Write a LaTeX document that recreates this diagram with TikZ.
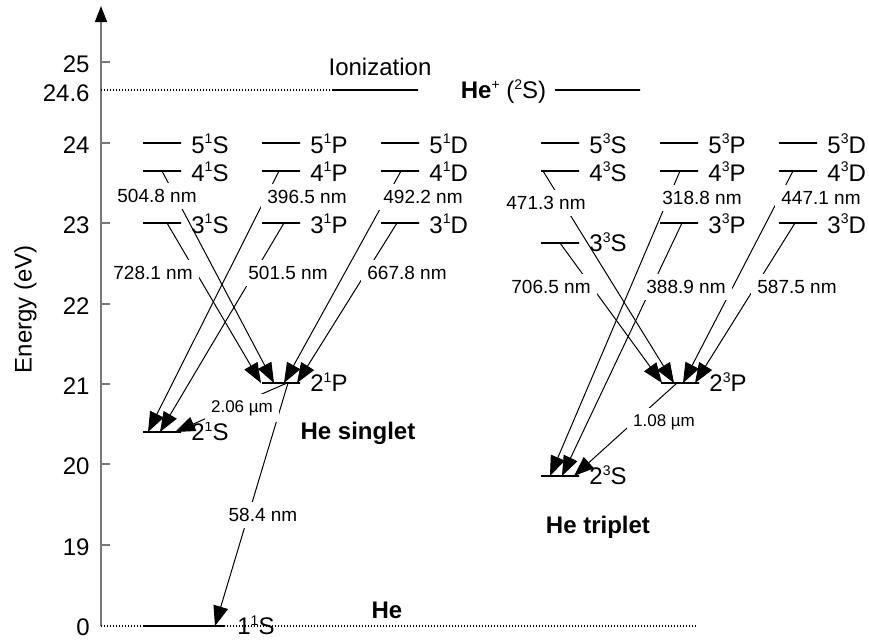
\documentclass[tikz,border=0pt]{standalone}
\usepackage{fontspec}
\setmainfont{Liberation Sans}
\usetikzlibrary{positioning, calc, arrows.meta}
\definecolor{axisgray}{RGB}{120,120,120}
\newcommand{\sps}[1]{\raisebox{0.75ex}{\fontsize{7}{8}\selectfont #1}}
\tikzset{
    lvl/.style = {draw, line width=0.8pt, minimum width=19pt, minimum height=0pt, inner sep=0pt, outer sep=0pt},
    lab/.style = {font=\fontsize{12}{14}\selectfont, inner sep=0pt, text height=8.6pt, text depth=0pt},
    nm/.style = {font=\fontsize{9.5}{11}\selectfont, fill=white, inner sep=3pt},
    trans/.style = {draw, line width=0.5pt, -{Triangle[length=10pt, width=7.5pt]}},
}

\begin{document}
\begin{tikzpicture}[
        x=0.5pt, y=-0.5pt,
        axis/.style={
            draw=axisgray,
            line width=0.8pt,
            -{Triangle[length=8pt, width=6pt, color=black]}
        },
        tick/.style={draw=axisgray, line width=0.8pt},
        ticklab/.style={lab, anchor=east},
        dotline/.style={draw, line width=0.6pt, dash pattern=on 0.6pt off 0.9pt},
        title/.style={lab, font=\fontsize{12}{14}\selectfont\bfseries},
        stlab/.style={lab, yshift=-0.75pt}
    ]
    \useasboundingbox (0,0) rectangle (869,639);

    % energy axis
    \draw[axis] (101,626) -- (101,6);
    \draw[tick] (101,62) -- (110,62);
    \draw[tick] (101,143) -- (110,143);
    \draw[tick] (101,223) -- (110,223);
    \draw[tick] (101,304) -- (110,304);
    \draw[tick] (101,384) -- (110,384);
    \draw[tick] (101,464) -- (110,464);
    \draw[tick] (101,545) -- (110,545);
    \node[ticklab] (e25) at (90,64) {25};
    \node[ticklab] (e246) at (90,93) {24.6};
    \node[ticklab] (e24) at (90,145) {24};
    \node[ticklab] (e23) at (90,225) {23};
    \node[ticklab] (e22) at (90,306) {22};
    \node[ticklab] (e21) at (90,386) {21};
    \node[ticklab] (e20) at (90,466) {20};
    \node[ticklab] (e19) at (90,547) {19};
    \node[ticklab] (e0) at (90,627) {0};
    \node[lab, rotate=90] (energy) at (23,309) {Energy (eV)};

    % ionization and ground state
    \node[lvl, minimum width=42.5pt] (ion) at (375.5,90) {};
    \node[lab] (iontxt) at (380,67) {Ionization};
    \node[lab] (heplus) at (503.5,90) {\textbf{He}\sps{+} (\sps{2}S)};
    \node[lvl, minimum width=42.5pt] (heplusline) at (597.5,90) {};
    \draw[dotline] (101,90) -- (ion.west);
    \draw[dotline] (101,626) -- (697,626);
    \node[lvl, minimum width=41pt] (g1S) at (184,626) {};
    \node[lab, right=6pt of g1S] (g1Slab) {1\sps{1}S};
    \node[title] (he) at (387,610) {He};

    % singlet levels
    \node[lvl] (s5S) at (162,143) {};
    \node[lvl] (s4S) at (162,171) {};
    \node[lvl] (s3S) at (162,223) {};
    \node[lvl] (s2S) at (162,432) {};
    \node[lvl] (s5P) at (281,143) {};
    \node[lvl] (s4P) at (281,171) {};
    \node[lvl] (s3P) at (281,223) {};
    \node[lvl] (s2P) at (281,383) {};
    \node[lvl] (s5D) at (400,143) {};
    \node[lvl] (s4D) at (400,171) {};
    \node[lvl] (s3D) at (400,223) {};
    \node[stlab, right=5pt of s5S] (s5Slab) {5\sps{1}S};
    \node[stlab, right=5pt of s4S] (s4Slab) {4\sps{1}S};
    \node[stlab, right=5pt of s3S] (s3Slab) {3\sps{1}S};
    \node[lab, right=5pt of s2S] (s2Slab) {2\sps{1}S};
    \node[stlab, right=5pt of s5P] (s5Plab) {5\sps{1}P};
    \node[stlab, right=5pt of s4P] (s4Plab) {4\sps{1}P};
    \node[stlab, right=5pt of s3P] (s3Plab) {3\sps{1}P};
    \node[lab, right=5pt of s2P] (s2Plab) {2\sps{1}P};
    \node[stlab, right=5pt of s5D] (s5Dlab) {5\sps{1}D};
    \node[stlab, right=5pt of s4D] (s4Dlab) {4\sps{1}D};
    \node[stlab, right=5pt of s3D] (s3Dlab) {3\sps{1}D};
    \node[title] (singlet) at (358,431) {He singlet};

    % triplet levels
    \node[lvl] (t5S) at (560,143) {};
    \node[lvl] (t4S) at (560,171) {};
    \node[lvl] (t3S) at (560,243) {};
    \node[lvl] (t2S) at (560,476) {};
    \node[lvl] (t5P) at (679,143) {};
    \node[lvl] (t4P) at (679,171) {};
    \node[lvl] (t3P) at (679,223) {};
    \node[lvl] (t2P) at (680,383) {};
    \node[lvl] (t5D) at (798,143) {};
    \node[lvl] (t4D) at (798,171) {};
    \node[lvl] (t3D) at (798,223) {};
    \node[stlab, right=5pt of t5S] (t5Slab) {5\sps{3}S};
    \node[stlab, right=5pt of t4S] (t4Slab) {4\sps{3}S};
    \node[lab, right=5pt of t3S] (t3Slab) {3\sps{3}S};
    \node[lab, right=5pt of t2S] (t2Slab) {2\sps{3}S};
    \node[stlab, right=5pt of t5P] (t5Plab) {5\sps{3}P};
    \node[stlab, right=5pt of t4P] (t4Plab) {4\sps{3}P};
    \node[stlab, right=5pt of t3P] (t3Plab) {3\sps{3}P};
    \node[lab, right=5pt of t2P] (t2Plab) {2\sps{3}P};
    \node[stlab, right=5pt of t5D] (t5Dlab) {5\sps{3}D};
    \node[stlab, right=5pt of t4D] (t4Dlab) {4\sps{3}D};
    \node[stlab, right=5pt of t3D] (t3Dlab) {3\sps{3}D};
    \node[title] (triplet) at (598,525) {He triplet};

    % singlet transitions
    \draw[trans] (s4S.center) -- ($(s2P.center)+(-7,0)$);
    \draw[trans] ($(s3S.center)+(5,0)$) -- ($(s2P.center)+(-20,0)$);
    \draw[trans] ($(s4P.center)+(-2,0)$) -- ($(s2S.center)+(-14,0)$);
    \draw[trans] ($(s3P.center)+(3,0)$) -- ($(s2S.center)+(-2,0)$);
    \draw[trans] ($(s4D.center)+(1,0)$) -- ($(s2P.center)+(3,0)$);
    \draw[trans] ($(s3D.center)+(-3,0)$) -- ($(s2P.center)+(16,0)$);
    \draw[trans] ($(s2P.center)+(6,0)$) -- ($(s2S.center)+(13,0)$);
    \draw[trans] ($(s2P.center)+(7,0)$) -- ($(g1S.center)+(31,0)$);
    \node[nm] (w5048) at (157,196) {504.8 nm};
    \node[nm] (w3965) at (307,197) {396.5 nm};
    \node[nm] (w4922) at (423,197) {492.2 nm};
    \node[nm] (w7281) at (153,273) {728.1 nm};
    \node[nm] (w5015) at (288,273) {501.5 nm};
    \node[nm] (w6678) at (407,273) {667.8 nm};
    \node[nm, font=\fontsize{8.5}{10}\selectfont] (w206) at (242,408) {2.06 µm};
    \node[nm] (w584) at (263,515) {58.4 nm};

    % triplet transitions
    \draw[trans] ($(t4S.center)+(-17,0)$) -- ($(t2P.center)+(-6,0)$);
    \draw[trans] (t3S.center) -- ($(t2P.center)+(-18,0)$);
    \draw[trans] ($(t4P.center)+(1,0)$) -- ($(t2S.center)+(-10,0)$);
    \draw[trans] ($(t3P.center)+(3,0)$) -- ($(t2S.center)+(2,0)$);
    \draw[trans] ($(t4D.center)+(-5,0)$) -- ($(t2P.center)+(3,0)$);
    \draw[trans] ($(t3D.center)+(-3,0)$) -- ($(t2P.center)+(15,0)$);
    \draw[trans] ($(t2P.center)+(-3,0)$) -- ($(t2S.center)+(14,0)$);
    \node[nm] (w4713) at (546,203) {471.3 nm};
    \node[nm] (w3188) at (702,198) {318.8 nm};
    \node[nm] (w4471) at (821,198) {447.1 nm};
    \node[nm] (w7065) at (551,287) {706.5 nm};
    \node[nm] (w3889) at (686,287) {388.9 nm};
    \node[nm] (w5875) at (797,287) {587.5 nm};
    \node[nm, font=\fontsize{8.5}{10}\selectfont] (w108) at (664,422) {1.08 µm};
\end{tikzpicture}
\end{document}
